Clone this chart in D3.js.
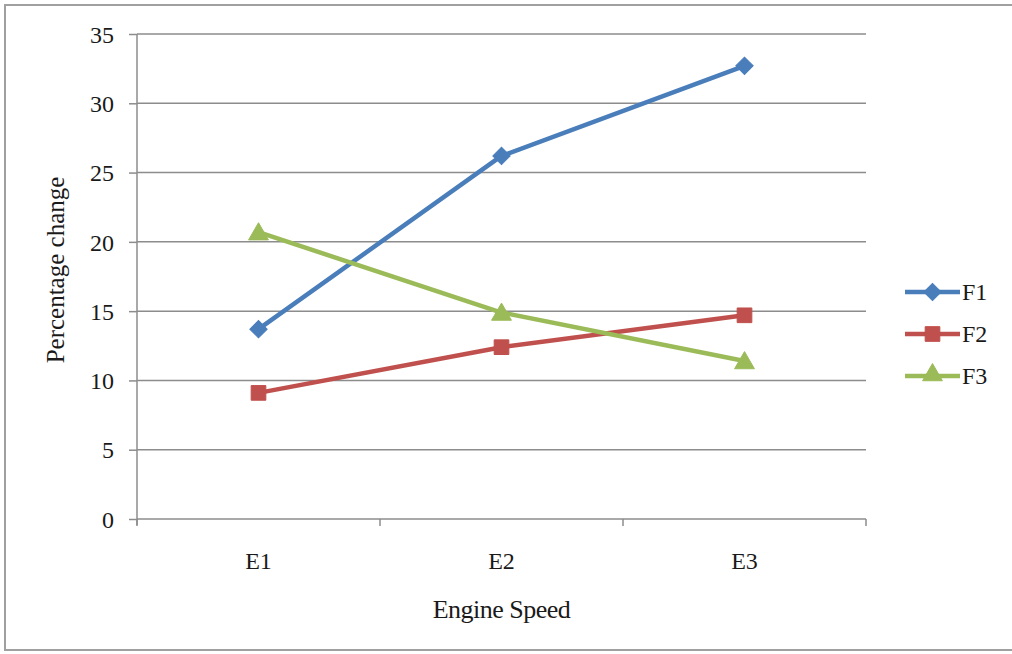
<!DOCTYPE html>
<html>
<head>
<meta charset="utf-8">
<script src="https://cdn.jsdelivr.net/npm/d3@7/dist/d3.min.js"></script>
<style>
  html, body { margin: 0; padding: 0; background: #fff; }
  svg { display: block; }
  text { font-family: "Liberation Serif", "Times New Roman", serif; fill: #1a1a1a; }
</style>
</head>
<body>
<svg id="chart" width="1012" height="654"></svg>
<script>
// Engine speed categories and percentage change per fuel
const categories = ["E1", "E2", "E3"];
const seriesNames = ["F1", "F2", "F3"];
const f1Values = [13.7, 26.2, 32.7];
const f2Values = [9.1, 12.4, 14.7];
const f3Values = [20.7, 14.9, 11.4];
const yTicks = [0, 5, 10, 15, 20, 25, 30, 35];

const seriesValues = [f1Values, f2Values, f3Values];
const colors = ["#4A7EBB", "#C0504D", "#9BBB59"];
const symbols = [d3.symbolSquare, d3.symbolSquare, d3.symbolTriangle];
const symbolSizes = [150, 215, 170];
const symbolRotate = [45, 0, 0];

const svg = d3.select("#chart");
const W = 1012, H = 654;

// outer frame
svg.append("rect")
  .attr("x", 5).attr("y", 5)
  .attr("width", W + 10).attr("height", H - 9)
  .attr("fill", "#fff")
  .attr("stroke", "#a0a0a0").attr("stroke-width", 2);

const plot = { left: 137, right: 866, top: 34, bottom: 519 };

const x = d3.scaleBand().domain(categories).range([plot.left, plot.right]).padding(0);
const y = d3.scaleLinear().domain([0, 35]).range([plot.bottom, plot.top]);

// horizontal gridlines
svg.append("g")
  .selectAll("line")
  .data(yTicks.filter(t => t > 0))
  .join("line")
  .attr("x1", plot.left).attr("x2", plot.right)
  .attr("y1", d => y(d)).attr("y2", d => y(d))
  .attr("stroke", "#8c8c8c").attr("stroke-width", 1.5);

// y axis
const yAxis = svg.append("g")
  .attr("transform", `translate(${plot.left},0)`)
  .call(d3.axisLeft(y).tickValues(yTicks).tickSize(8).tickPadding(15).tickFormat(d3.format("d")));
yAxis.select(".domain").attr("stroke", "#8c8c8c").attr("stroke-width", 1.5)
  .attr("d", `M0,${plot.top}V${plot.bottom + 6}`);
yAxis.selectAll(".tick line").attr("stroke", "#8c8c8c").attr("stroke-width", 1.5);
yAxis.selectAll(".tick text")
  .attr("font-size", 24).attr("font-family", "Liberation Serif").attr("fill", "#1a1a1a")
  .attr("dy", "0.34em");

// x axis
const xAxis = svg.append("g")
  .attr("transform", `translate(0,${plot.bottom})`)
  .call(d3.axisBottom(x).tickSize(0).tickPadding(33));
xAxis.select(".domain").attr("stroke", "#8c8c8c").attr("stroke-width", 1.5)
  .attr("d", `M${plot.left},0H${plot.right}`);
xAxis.selectAll(".tick text")
  .attr("font-size", 24).attr("font-family", "Liberation Serif").attr("fill", "#1a1a1a");
// category boundary ticks
const bounds = categories.map(c => x(c)).concat([x(categories[categories.length - 1]) + x.bandwidth()]);
xAxis.append("g").selectAll("line")
  .data(bounds)
  .join("line")
  .attr("x1", d => d).attr("x2", d => d)
  .attr("y1", 0).attr("y2", 7)
  .attr("stroke", "#8c8c8c").attr("stroke-width", 1.5);

// axis titles
svg.append("text")
  .attr("x", (plot.left + plot.right) / 2)
  .attr("y", 618)
  .attr("text-anchor", "middle")
  .attr("font-size", 26)
  .attr("letter-spacing", "-0.5")
  .text("Engine Speed");

svg.append("text")
  .attr("transform", `translate(64,270) rotate(-90)`)
  .attr("text-anchor", "middle")
  .attr("font-size", 25)
  .text("Percentage change");

// series lines and markers
const line = d3.line()
  .x((d, i) => x(categories[i]) + x.bandwidth() / 2)
  .y(d => y(d));

seriesValues.forEach((vals, si) => {
  const g = svg.append("g");
  g.append("path")
    .datum(vals)
    .attr("d", line)
    .attr("fill", "none")
    .attr("stroke", colors[si])
    .attr("stroke-width", 4.5)
    .attr("stroke-linejoin", "round");
  g.selectAll("path.marker")
    .data(vals)
    .join("path")
    .attr("class", "marker")
    .attr("transform", (d, i) => `translate(${x(categories[i]) + x.bandwidth() / 2},${y(d) + (si === 2 ? 2 : 0)}) rotate(${symbolRotate[si]})`)
    .attr("d", d3.symbol().type(symbols[si]).size(symbolSizes[si]))
    .attr("fill", colors[si])
    .attr("stroke", colors[si])
    .attr("stroke-width", 1);
});

// legend
const legend = svg.append("g").attr("transform", "translate(905,292)");
seriesNames.forEach((name, i) => {
  const row = legend.append("g").attr("transform", `translate(0,${i * 42})`);
  row.append("line")
    .attr("x1", 0).attr("x2", 55).attr("y1", 0).attr("y2", 0)
    .attr("stroke", colors[i]).attr("stroke-width", 4.5);
  row.append("path")
    .attr("transform", `translate(27.5,${i === 2 ? -1 : 0}) rotate(${symbolRotate[i]})`)
    .attr("d", d3.symbol().type(symbols[i]).size(symbolSizes[i]))
    .attr("fill", colors[i]).attr("stroke", colors[i]).attr("stroke-width", 1);
  row.append("text")
    .attr("x", 57).attr("y", 0).attr("dy", "0.35em")
    .attr("font-size", 24)
    .text(name);
});
</script>
</body>
</html>
